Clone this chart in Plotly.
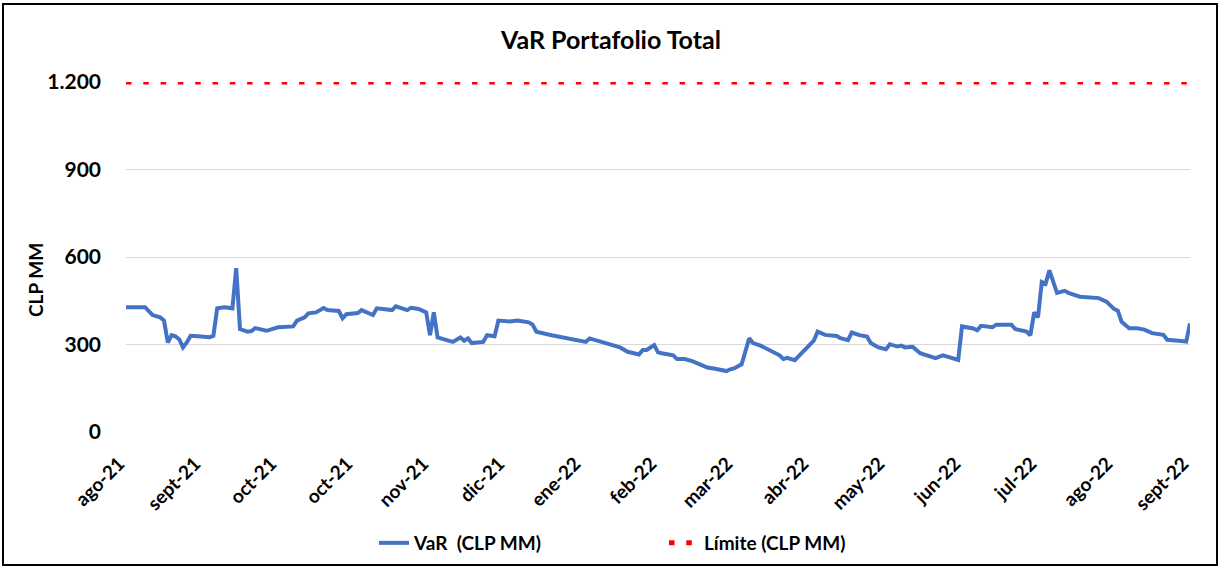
import plotly.graph_objects as go

# ---- data ----
tick_labels = ["ago-21", "sept-21", "oct-21", "oct-21", "nov-21", "dic-21", "ene-22", "feb-22",
               "mar-22", "abr-22", "may-22", "jun-22", "jul-22", "ago-22", "sept-22"]
tick_step = 20  # observations between labels

obs_idx = [0, 5, 7, 9, 10, 11, 12, 13, 14, 15, 16, 17, 19, 22, 23, 24, 26, 28, 29, 30, 32, 33, 34, 37, 40,
           42, 43, 44, 45, 47, 48, 50, 52, 53, 56, 57, 58, 61, 62, 65, 66, 69, 70, 71, 74, 75, 77, 79, 80,
           81, 82, 86, 88, 89, 90, 91, 94, 95, 97, 98, 101, 103, 106, 107, 108, 112, 117, 118, 121, 122,
           126, 128, 130, 132, 135, 136, 137, 139, 140, 141, 144, 145, 147, 149, 151, 153, 155, 158, 159,
           160, 162, 164, 165, 167, 172, 173, 174, 176, 178, 179, 181, 182, 184, 187, 188, 190, 191, 193,
           195, 196, 198, 200, 201, 203, 204, 205, 207, 209, 211, 213, 215, 219, 220, 223, 224, 225, 228,
           229, 233, 234, 237, 238, 239, 240, 241, 242, 243, 245, 247, 248, 251, 256, 258, 259, 260, 261,
           262, 264, 266, 268, 270, 273, 274, 277, 279, 280]

var_vals = [428, 428, 401, 393, 382, 307, 332, 328, 318, 290, 307, 330, 328, 325, 330, 424, 428, 424, 562,
            353, 344, 346, 356, 347, 359, 359, 362, 362, 382, 393, 407, 410, 425, 418, 415, 390, 404, 408,
            418, 401, 424, 422, 418, 431, 418, 426, 422, 410, 332, 410, 324, 309, 324, 313, 321, 305, 309,
            332, 328, 382, 379, 382, 376, 368, 344, 332, 321, 318, 309, 321, 305, 296, 290, 275, 266, 281,
            281, 298, 273, 270, 263, 250, 250, 243, 232, 221, 217, 209, 215, 218, 232, 321, 305, 296, 263,
            250, 254, 246, 273, 286, 313, 344, 333, 329, 322, 315, 341, 332, 327, 305, 290, 284, 301, 293,
            296, 290, 292, 270, 263, 253, 263, 247, 362, 355, 349, 364, 359, 368, 368, 353, 344, 332, 410,
            393, 514, 508, 554, 477, 484, 477, 464, 459, 447, 433, 422, 416, 378, 356, 356, 351, 339, 333,
            316, 313, 310, 372]

limite = 1200
y_ticks = [0, 300, 600, 900, 1200]

FONT = "Lato"
W, H = 1220, 568
ML, MR, MT, MB = 126, 30, 82, 136
pw, ph = W - ML - MR, H - MT - MB

def px_x(x):
    return (x - ML) / pw

def px_y(y):
    return (H - MB - y) / ph

fig = go.Figure()
fig.add_trace(go.Scatter(
    x=obs_idx, y=var_vals, mode="lines", name="VaR\u00a0 (CLP MM)",
    line=dict(color="#4472C4", width=4),
))
fig.add_trace(go.Scatter(
    x=[obs_idx[0], obs_idx[-1]], y=[limite, limite], mode="lines", name="Límite (CLP MM)",
    line=dict(color="#FF0000", width=5, dash="5.5px,11.8px"), cliponaxis=True,
))

tickvals = [i * tick_step for i in range(len(tick_labels))]

fig.update_layout(
    width=W, height=H, autosize=False,
    margin=dict(l=ML, r=MR, t=MT, b=MB, autoexpand=False),
    paper_bgcolor="white", plot_bgcolor="white",
    separators=",.",
    font=dict(family=FONT, color="black"),
    title=dict(text="<b>VaR Portafolio Total</b>", x=px_x(611), xref="paper", xanchor="center",
               y=1 - 40 / H, yanchor="middle", font=dict(size=25, family=FONT, color="black")),
    showlegend=True,
    legend=dict(orientation="h", x=px_x(374), xanchor="left", y=px_y(543), yanchor="middle",
                font=dict(size=19, family=FONT, color="black", weight="bold"),
                entrywidth=245, entrywidthmode="pixels", bgcolor="rgba(0,0,0,0)"),
    xaxis=dict(range=[obs_idx[0], obs_idx[-1]], tickmode="array", tickvals=tickvals, ticktext=tick_labels,
               tickangle=-45, showgrid=False, zeroline=False, showline=False, ticks="",
               ticklabelstandoff=16, ticklabelshift=-7, automargin=False,
               tickfont=dict(size=19, family=FONT, color="black", weight="bold")),
    yaxis=dict(range=[0, 1200], tickmode="array", tickvals=y_ticks, tickformat=",d",
               showgrid=True, gridcolor="#D9D9D9", gridwidth=1, zeroline=False, showline=False,
               ticks="", ticklabelstandoff=24, automargin=False,
               tickfont=dict(size=21, family=FONT, color="black", weight="bold")),
)

fig.add_annotation(text="<b>CLP MM</b>", xref="paper", yref="paper", x=px_x(35), y=px_y(280),
                   xanchor="center", yanchor="middle", textangle=-90, showarrow=False,
                   font=dict(size=19, family=FONT, color="black"))

fig.add_shape(type="rect", xref="paper", yref="paper",
              x0=px_x(3), x1=px_x(1217), y0=px_y(565), y1=px_y(4),
              line=dict(color="black", width=2), fillcolor="rgba(0,0,0,0)", layer="below")

fig.write_html("out.html", config={"displayModeBar": False, "responsive": False},
               post_script="document.body.style.margin='0';document.documentElement.style.margin='0';"
                           "document.body.style.overflow='hidden';")
